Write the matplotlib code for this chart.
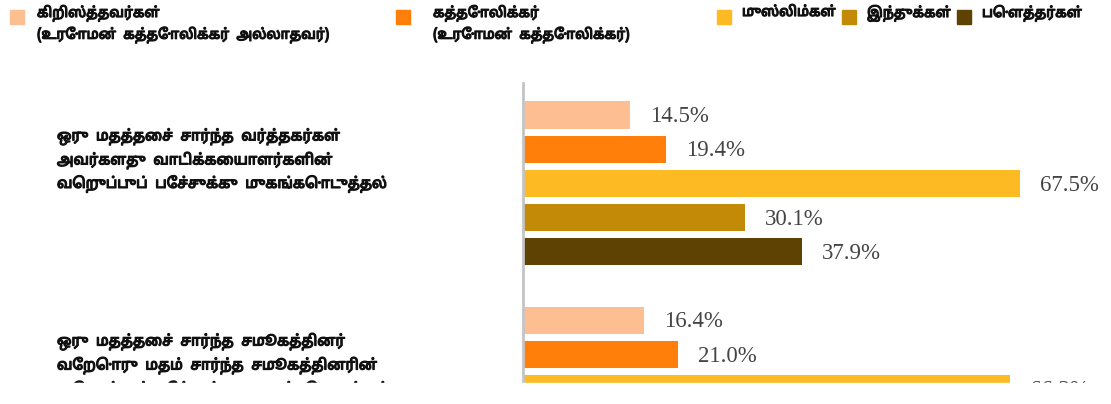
import matplotlib
matplotlib.use("Agg")
import matplotlib.pyplot as plt
import matplotlib.patheffects as pe
from matplotlib import font_manager
from matplotlib.ft2font import FT2Font
from matplotlib.patches import Rectangle

# ---------------- data ----------------
series_names = [
    "கிறிஸ்த்தவர்கள்\n(உரோமன்  கத்தோலிக்கர்  அல்லாதவர்)",
    "கத்தோலிக்கர்\n(உரோமன்  கத்தோலிக்கர்)",
    "முஸ்லிம்கள்",
    "இந்துக்கள்",
    "பௌத்தர்கள்",
]
series_colors = ["#FDBF92", "#FF7F0A", "#FDBA22", "#C28A06", "#5E4203"]
group_labels = [
    "ஒரு  மதத்தைச்  சார்ந்த  வர்த்தகர்கள்\nஅவர்களது  வாடிக்கையாளர்களின்\nவெறுப்புப்  பேச்சுக்கு  முகங்கொடுத்தல்",
    "ஒரு  மதத்தைச்  சார்ந்த  சமூகத்தினர்\nவேறொரு  மதம்  சார்ந்த  சமூகத்தினரின்\nவெறுப்புப்  பேச்சுக்கு  முகங்கொடுத்தல்",
]
group1_values = [14.5, 19.4, 67.5, 30.1, 37.9]
group2_values = [16.4, 21.0, 66.2]
group_values = [group1_values, group2_values]

# ---------------- fonts ----------------
def find_tamil_family():
    cands = []
    for f in font_manager.fontManager.ttflist:
        try:
            ft = FT2Font(f.fname)
            if 0x0B95 in ft.get_charmap():
                cands.append(f)
        except Exception:
            pass
    if not cands:
        return None
    cands.sort(key=lambda f: (0 if "Noto Sans Tamil" in f.name else 1, f.name))
    return cands[0].name

tamil = find_tamil_family()
tamil_fams = ([tamil] if tamil else []) + ["DejaVu Sans"]
plt.rcParams["font.family"] = tamil_fams

TXT = "#111111"
bold_fx = [pe.withStroke(linewidth=0.9, foreground=TXT)]

W, H = 1111, 404
fig = plt.figure(figsize=(W / 100, H / 100), dpi=100)
fig.patch.set_facecolor("white")

def fx(px):
    return px / W

def fy(py):
    return 1 - py / H

# ---------------- axes ----------------
x0_px = 523
px_per_unit = 7.36
xmax = 80
slot_px = 34.2
top_px = 83
bottom_px = 520
ax_w = xmax * px_per_unit
ax = fig.add_axes([fx(x0_px), fy(bottom_px), fx(ax_w), (bottom_px - top_px) / H])
first_center_px = 115
ytop = -(first_center_px - top_px) / slot_px
ybot = ytop + (bottom_px - top_px) / slot_px
ax.set_ylim(ybot, ytop)
ax.set_xlim(0, xmax)

slots_per_group = 6
for g, vals in enumerate(group_values):
    for i, v in enumerate(vals):
        y = g * slots_per_group + i
        ax.barh(y, v, height=0.8, color=series_colors[i], edgecolor="none")
        ax.text(v + 20 / px_per_unit, y + 0.05, f"{v:.1f}%", va="center", ha="left",
                family=["Liberation Serif", "DejaVu Serif"], fontsize=16.5,
                color="#444444")

for s in ["top", "right", "bottom"]:
    ax.spines[s].set_visible(False)
ax.spines["left"].set_color("#C4C4C4")
ax.spines["left"].set_linewidth(2)
ax.set_xticks([])
ax.set_yticks([])
ax.patch.set_alpha(0)

# group labels (left)
for g, lab in enumerate(group_labels):
    yc = first_center_px + (g * slots_per_group + 2) * slot_px - 23
    fig.text(fx(57), fy(yc), lab, ha="left", va="center", fontsize=10.6,
             fontweight="bold", family=tamil_fams, linespacing=1.57,
             color=TXT, path_effects=bold_fx)

# legend
leg_sq_x = [10, 396, 717, 842, 957]
leg_tx_x = [37, 433, 742, 867, 982]
for i, name in enumerate(series_names):
    fig.add_artist(Rectangle((fx(leg_sq_x[i]), fy(24)), fx(14), 14 / H,
                             transform=fig.transFigure, color=series_colors[i]))
    fig.text(fx(leg_tx_x[i]), fy(5), name, ha="left", va="top", fontsize=10.1,
             fontweight="bold", family=tamil_fams, linespacing=1.45,
             color=TXT, path_effects=bold_fx)

# clipping band at the bottom (reference is cut off)
fig.add_artist(Rectangle((0, 0), 1, (H - 383) / H, transform=fig.transFigure,
                         color="white", zorder=50))

fig.savefig("out.png", dpi=100, facecolor="white")
